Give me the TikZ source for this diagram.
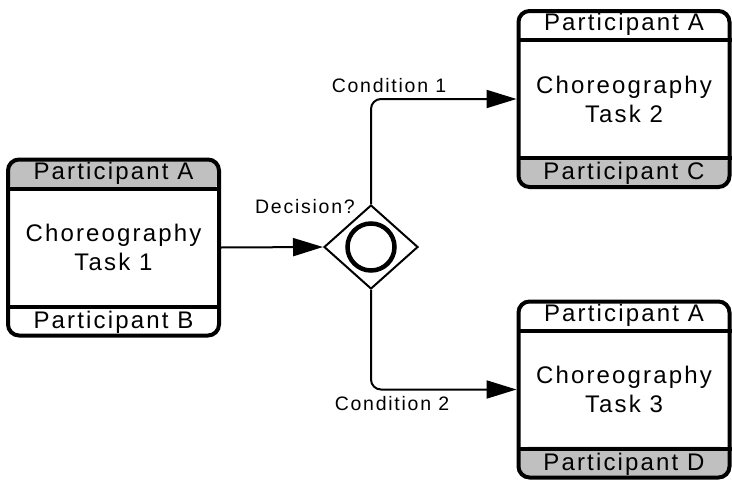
\documentclass[tikz,border=0pt]{standalone}
\usepackage{fontspec}
\usepackage{tikz}
\usetikzlibrary{positioning,arrows.meta,shapes.geometric}
\usepackage{xcolor}
\newfontfamily\diagfont{Liberation Sans}[LetterSpace=9]
\definecolor{bandgray}{RGB}{192,192,192}

\begin{document}
\begin{tikzpicture}[x=1pt,y=-1pt,>={Triangle[length=30pt,width=18pt]},
  task/.style={draw,line width=4pt,rounded corners=11pt,fill=white,inner sep=0pt,
    minimum width=211pt,minimum height=176pt,align=center,
    font=\diagfont\fontsize{24}{29}\selectfont},
  graytop/.style={path picture={\fill[bandgray] (path picture bounding box.north west) rectangle ([yshift=-31pt]path picture bounding box.north east);}},
  graybot/.style={path picture={\fill[bandgray] (path picture bounding box.south west) rectangle ([yshift=31pt]path picture bounding box.south east);}},
  part/.style={inner sep=0pt,font=\diagfont\fontsize{24}{29}\selectfont},
  bandline/.style={line width=4pt},
  gate/.style={diamond,draw,line width=2pt,minimum width=94pt,minimum height=84pt,inner sep=0pt},
  flow/.style={->,line width=2pt,rounded corners=10pt},
  cond/.style={inner sep=0pt,anchor=base,font=\diagfont\fontsize{19.5}{23}\selectfont}]
\useasboundingbox (0,0) rectangle (732,485);

% choreography tasks
\node[task,graytop] (t1) at (113.5,247.5) {Choreography\\Task 1};
\node[task,graybot] (t2) at (624,99) {Choreography\\Task 2};
\node[task,graybot] (t3) at (624,389.5) {Choreography\\Task 3};

\draw[bandline] ([yshift=-31pt]t1.north west) -- ([yshift=-31pt]t1.north east);
\draw[bandline] ([yshift=31pt]t1.south west) -- ([yshift=31pt]t1.south east);
\draw[bandline] ([yshift=-31pt]t2.north west) -- ([yshift=-31pt]t2.north east);
\draw[bandline] ([yshift=31pt]t2.south west) -- ([yshift=31pt]t2.south east);
\draw[bandline] ([yshift=-31pt]t3.north west) -- ([yshift=-31pt]t3.north east);
\draw[bandline] ([yshift=31pt]t3.south west) -- ([yshift=31pt]t3.south east);

\node[part] (t1a) at ([yshift=-15.5pt]t1.north) {Participant A};
\node[part] (t1b) at ([yshift=15.5pt]t1.south) {Participant B};
\node[part] (t2a) at ([yshift=-15.5pt]t2.north) {Participant A};
\node[part] (t2c) at ([yshift=15.5pt]t2.south) {Participant C};
\node[part] (t3a) at ([yshift=-15.5pt]t3.north) {Participant A};
\node[part] (t3d) at ([yshift=15.5pt]t3.south) {Participant D};

% gateway
\node[gate] (dec) at (371,247) {};
\node[circle,draw,line width=4.5pt,minimum size=47pt,inner sep=0pt] (mark) at (dec) {};

\draw[flow] (t1.east) -- (dec.west);
\draw[flow] (dec.north) |- (t2.west);
\draw[flow] (dec.south) |- (t3.west);

\node[cond,anchor=base east] (declbl) at (355,213) {Decision?};
\node[cond] (c1) at (389,92) {Condition 1};
\node[cond] (c2) at (392,410) {Condition 2};
\end{tikzpicture}
\end{document}
